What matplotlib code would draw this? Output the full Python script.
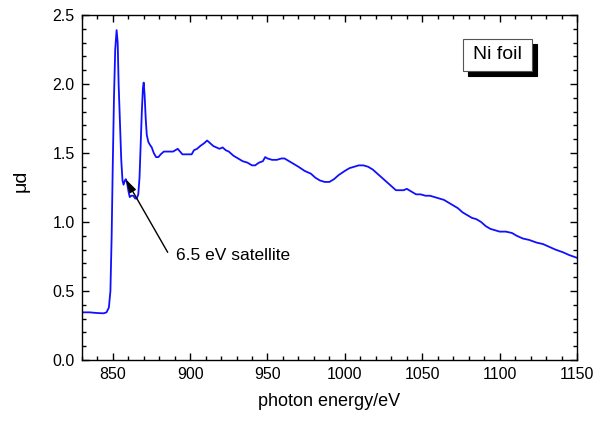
"""Ni L-edge absorption spectrum of a Ni foil (mu*d vs photon energy)."""
import matplotlib
matplotlib.use("Agg")
import matplotlib.pyplot as plt
from matplotlib.patches import Rectangle
from matplotlib.ticker import MultipleLocator

plt.rcParams["font.family"] = ["Liberation Sans", "DejaVu Sans"]

# photon energy (eV) and mu*d
energy = [
    830, 835, 840, 844, 846, 847.5, 848.5, 849.3, 850, 850.8, 851.6, 852.5, 853.2,
    853.8, 854.6, 855.5, 856.3, 857.0, 857.8, 858.5, 859.3, 860.2, 861, 862, 863.3,
    864.5, 865.5, 866.5, 867.3, 868, 868.8, 869.5, 870.0, 870.6, 871.3, 872.0, 873,
    874, 875.2, 876.5, 878, 879.5, 881, 883, 885, 887, 889, 890.5, 892, 893.5, 895,
    898, 901, 902.5, 904.5, 906.5, 909, 911, 913, 915, 917, 919, 921, 923, 925, 928,
    931, 934, 937, 940, 942, 944.5, 947, 948.5, 950, 953, 956, 959, 961, 964, 967,
    970, 974, 978, 981, 984, 987, 990, 993, 996, 1000, 1003, 1006, 1009, 1012, 1015,
    1018, 1021, 1024, 1027, 1030, 1033, 1035, 1038, 1040, 1043, 1046, 1049, 1052,
    1055, 1058, 1061, 1064, 1067, 1070, 1073, 1076, 1079, 1082, 1085, 1088, 1091,
    1094, 1097, 1100, 1104, 1108, 1111, 1115, 1119, 1124, 1128, 1132, 1136, 1141,
    1145, 1150,
]
mu_d = [
    0.345, 0.345, 0.340, 0.338, 0.345, 0.38, 0.50, 0.90, 1.40, 1.90, 2.25, 2.39, 2.30,
    2.00, 1.74, 1.45, 1.30, 1.27, 1.30, 1.31, 1.28, 1.22, 1.18, 1.19, 1.19,
    1.17, 1.17, 1.20, 1.32, 1.55, 1.80, 1.97, 2.01, 1.92, 1.75, 1.63, 1.58,
    1.56, 1.54, 1.50, 1.47, 1.47, 1.49, 1.51, 1.51, 1.51, 1.51, 1.52, 1.53, 1.51, 1.49,
    1.49, 1.49, 1.52, 1.53, 1.55, 1.57, 1.59, 1.57, 1.55, 1.54, 1.53, 1.54, 1.52, 1.51, 1.48,
    1.46, 1.44, 1.43, 1.41, 1.41, 1.43, 1.44, 1.47, 1.46, 1.45, 1.45, 1.46, 1.46, 1.44, 1.42,
    1.40, 1.37, 1.35, 1.32, 1.30, 1.29, 1.29, 1.31, 1.34, 1.37, 1.39, 1.40, 1.41, 1.41, 1.40,
    1.38, 1.35, 1.32, 1.29, 1.26, 1.23, 1.23, 1.23, 1.24, 1.22, 1.20, 1.20, 1.19,
    1.19, 1.18, 1.17, 1.16, 1.14, 1.12, 1.10, 1.07, 1.05, 1.03, 1.02, 1.00, 0.97,
    0.95, 0.94, 0.93, 0.93, 0.92, 0.90, 0.88, 0.87, 0.85, 0.84, 0.82, 0.80, 0.78,
    0.76, 0.74,
]

sat_xy = (858.4, 1.31)
sat_tail = (885.5, 0.78)
sat_label = "6.5 eV satellite"
sample_label = "Ni foil"

fig = plt.figure(figsize=(5.97, 4.21), dpi=100)
ax = fig.add_axes([0.137, 0.145, 0.8295, 0.8195])

ax.plot(energy, mu_d, color="#1010ff", lw=1.3)

ax.set_xlim(830, 1150)
ax.set_ylim(0, 2.5)
ax.xaxis.set_major_locator(MultipleLocator(50))
ax.xaxis.set_minor_locator(MultipleLocator(10))
ax.yaxis.set_major_locator(MultipleLocator(0.5))
ax.yaxis.set_minor_locator(MultipleLocator(0.1))
ax.tick_params(which="both", direction="in", top=True, right=True,
               labelsize=11.5, width=1.0)
ax.tick_params(which="major", length=5, pad=5)
ax.tick_params(which="minor", length=3)
for sp in ax.spines.values():
    sp.set_linewidth(1.0)

ax.set_xlabel("photon energy/eV", fontsize=13, labelpad=8)
ax.set_ylabel("μd", fontsize=14)
ax.yaxis.set_label_coords(-0.105, 0.52)

ax.annotate("", xy=sat_xy, xytext=sat_tail,
            arrowprops=dict(arrowstyle="-|>,head_length=0.8,head_width=0.22",
                            color="black", lw=1.0, shrinkA=0, shrinkB=0))
ax.text(891, 0.76, sat_label, fontsize=12.5, va="center", ha="left")

# boxed sample label with drop shadow
bx, by, bw, bh = 0.770, 0.838, 0.139, 0.092
ax.add_patch(Rectangle((bx + 0.0105, by - 0.0145), bw, bh, transform=ax.transAxes,
                       facecolor="black", edgecolor="black", lw=0.8, zorder=4))
ax.add_patch(Rectangle((bx, by), bw, bh, transform=ax.transAxes,
                       facecolor="white", edgecolor="#555555", lw=0.8, zorder=5))
ax.text(bx + bw / 2, by + bh / 2, sample_label, transform=ax.transAxes,
        fontsize=14, ha="center", va="center", zorder=6)

fig.savefig("out.png", dpi=100)
